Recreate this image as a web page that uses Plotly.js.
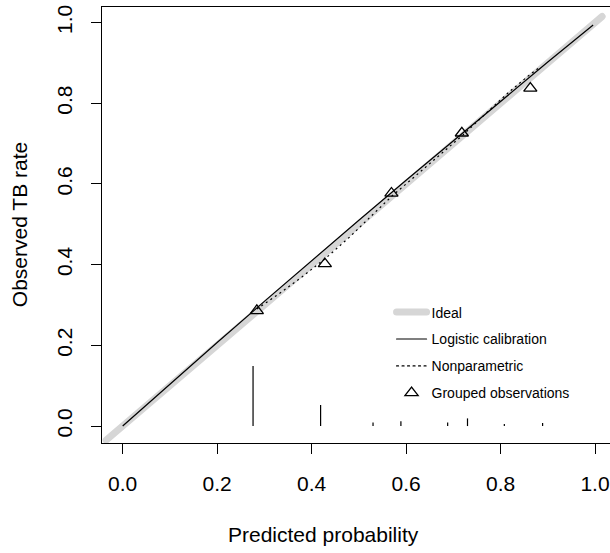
<!DOCTYPE html>
<html>
<head>
<meta charset="utf-8">
<script src="https://cdn.plot.ly/plotly-3.0.1.min.js"></script>
<style>
html, body { margin: 0; padding: 0; background: #fff; }
#chart { width: 610px; height: 553px; }
.legend path.js-line { stroke-linecap: round; }
</style>
</head>
<body>
<div id="chart"></div>
<script>
// Ideal reference line
var idealX = [-0.035, 1.015];
var idealY = [-0.035, 1.015];

// Logistic calibration curve
var logisticX = [0.0, 0.1, 0.2, 0.3, 0.4, 0.5, 0.6, 0.7, 0.8, 0.9, 0.996];
var logisticY = [0.0, 0.104, 0.207, 0.309, 0.41, 0.51, 0.609, 0.707, 0.805, 0.902, 0.994];

// Nonparametric (loess) curve
var nonparX = [0.284, 0.33, 0.38, 0.43, 0.48, 0.53, 0.57, 0.62, 0.67, 0.72, 0.77, 0.82, 0.86, 0.884];
var nonparY = [0.290, 0.327, 0.370, 0.416, 0.468, 0.525, 0.570, 0.620, 0.670, 0.721, 0.776, 0.830, 0.869, 0.890];

// Grouped observations
var groupX = [0.284, 0.428, 0.569, 0.718, 0.863];
var groupY = [0.286, 0.402, 0.577, 0.726, 0.837];

// Distribution of predicted probabilities (spike histogram)
var spikeX = [0.276, 0.419, 0.530, 0.589, 0.688, 0.730, 0.808, 0.889];
var spikeH = [0.149, 0.052, 0.009, 0.012, 0.009, 0.019, 0.005, 0.0075];

var tickVals = [0, 0.2, 0.4, 0.6, 0.8, 1.0];
var tickText = ["0.0", "0.2", "0.4", "0.6", "0.8", "1.0"];

var xTitle = "Predicted probability";
var yTitle = "Observed TB rate";

var sx = [], sy = [];
for (var i = 0; i < spikeX.length; i++) {
  sx.push(spikeX[i], spikeX[i], null);
  sy.push(0, spikeH[i], null);
}

var FONT = "Liberation Sans, Arial, sans-serif";

var traces = [
  {x: idealX, y: idealY, mode: "lines", name: "Ideal", legendgroup: "a",
   line: {color: "#d6d6d6", width: 7}, hoverinfo: "skip"},
  {x: sx, y: sy, mode: "lines", showlegend: false,
   line: {color: "#000", width: 1.2}, hoverinfo: "skip"},
  {x: logisticX, y: logisticY, mode: "lines", name: "Logistic calibration", legendgroup: "b",
   line: {color: "#000", width: 1.2}},
  {x: nonparX, y: nonparY, mode: "lines", name: "Nonparametric", legendgroup: "c",
   line: {color: "#000", width: 1.2, dash: "2px,3.5px"}},
  {x: groupX, y: groupY, mode: "markers", name: "Grouped observations", legendgroup: "d",
   marker: {symbol: "triangle-up-open", size: 11.5, color: "#000", line: {color: "#000", width: 1.3}}}
];

var layout = {
  width: 610, height: 553,
  margin: {l: 102, r: 0, t: 7, b: 110},
  paper_bgcolor: "#fff", plot_bgcolor: "#fff",
  font: {family: FONT, color: "#000"},
  xaxis: {
    range: [-0.0438, 1.0317], showgrid: false, zeroline: false,
    showline: true, linecolor: "#000", linewidth: 1, mirror: true,
    ticks: "outside", ticklen: 10, tickwidth: 1, tickcolor: "#000",
    tickvals: tickVals, ticktext: tickText, ticklabelstandoff: 12,
    tickfont: {size: 21, family: FONT}
  },
  yaxis: {
    range: [-0.042, 1.0385], showgrid: false, zeroline: false,
    showline: true, linecolor: "#000", linewidth: 1, mirror: false,
    ticks: "outside", ticklen: 10, tickwidth: 1, tickcolor: "#000",
    tickvals: tickVals, ticktext: tickText, tickangle: -90, ticklabelstandoff: 11,
    tickfont: {size: 21, family: FONT}
  },
  annotations: [
    {text: xTitle, xref: "paper", yref: "paper", x: 0.437, y: -0.211,
     xanchor: "center", yanchor: "middle", showarrow: false,
     font: {size: 21, family: FONT, color: "#000"}},
    {text: yTitle, xref: "paper", yref: "paper", x: -0.163, y: 0.5,
     xanchor: "center", yanchor: "middle", textangle: -90, showarrow: false,
     font: {size: 21, family: FONT, color: "#000"}}
  ],
  showlegend: true,
  legend: {
    x: 0.57, y: 0.336, xanchor: "left", yanchor: "top",
    bgcolor: "rgba(0,0,0,0)", borderwidth: 0,
    font: {size: 14, family: FONT, color: "#000"},
    traceorder: "grouped", tracegroupgap: 5.7, itemwidth: 30
  }
};

Plotly.newPlot("chart", traces, layout, {staticPlot: true, displayModeBar: false}).then(function(){
  var lines = document.querySelectorAll(".scatterlayer .trace:first-child path.js-line");
  lines.forEach(function(p){ p.style.strokeLinecap = "round"; });
});
</script>
</body>
</html>
